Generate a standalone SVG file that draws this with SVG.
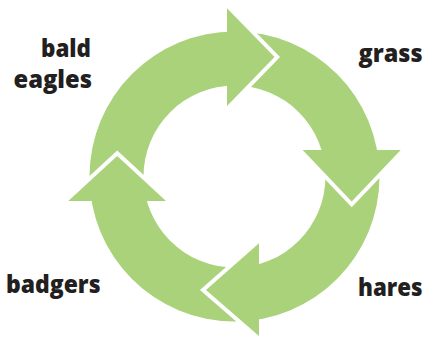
<svg xmlns="http://www.w3.org/2000/svg" width="427" height="341" viewBox="0 0 427 341">
<style>
.ring{fill:#a9d27a;fill-rule:evenodd}
.head{fill:#a9d27a}
.edge{fill:none;stroke:#fff;stroke-width:8;stroke-linejoin:miter;stroke-miterlimit:10}
.lbl{font-family:"Open Sans","Liberation Sans",sans-serif;font-weight:800;font-size:24px;fill:#231f20}
</style>
<rect width="427" height="341" fill="#fff"/>
<g id="connectors">
<path class="ring" d="M89.5,176.5a145,145 0 1,0 290,0a145,145 0 1,0 -290,0ZM143.5,176.5a91,91 0 1,1 182,0a91,91 0 1,1 -182,0Z"/>
<polyline class="edge" points="227,8.3 274.5,57 227,106"/>
<polygon class="head" points="227,8.3 274.5,57 227,106"/>
<polyline class="edge" points="302.7,150 351.7,201.5 400.7,150"/>
<polygon class="head" points="302.7,150 351.7,201.5 400.7,150"/>
<polyline class="edge" points="259,243.3 206,290 259,336"/>
<polygon class="head" points="259,243.3 206,290 259,336"/>
<polyline class="edge" points="68.3,201 117.2,156 166,201"/>
<polygon class="head" points="68.3,201 117.2,156 166,201"/>
</g>
<g id="bald-eagles">
<text class="lbl" x="41" y="56.7" textLength="50" lengthAdjust="spacingAndGlyphs">bald</text>
<text class="lbl" x="13.5" y="88.3" textLength="78.5" lengthAdjust="spacingAndGlyphs">eagles</text>
</g>
<g id="grass"><text class="lbl" x="358.5" y="61.7" textLength="64" lengthAdjust="spacingAndGlyphs">grass</text></g>
<g id="hares"><text class="lbl" x="358" y="296" textLength="64.5" lengthAdjust="spacingAndGlyphs">hares</text></g>
<g id="badgers"><text class="lbl" x="6" y="293.3" textLength="94.5" lengthAdjust="spacingAndGlyphs">badgers</text></g>
</svg>
